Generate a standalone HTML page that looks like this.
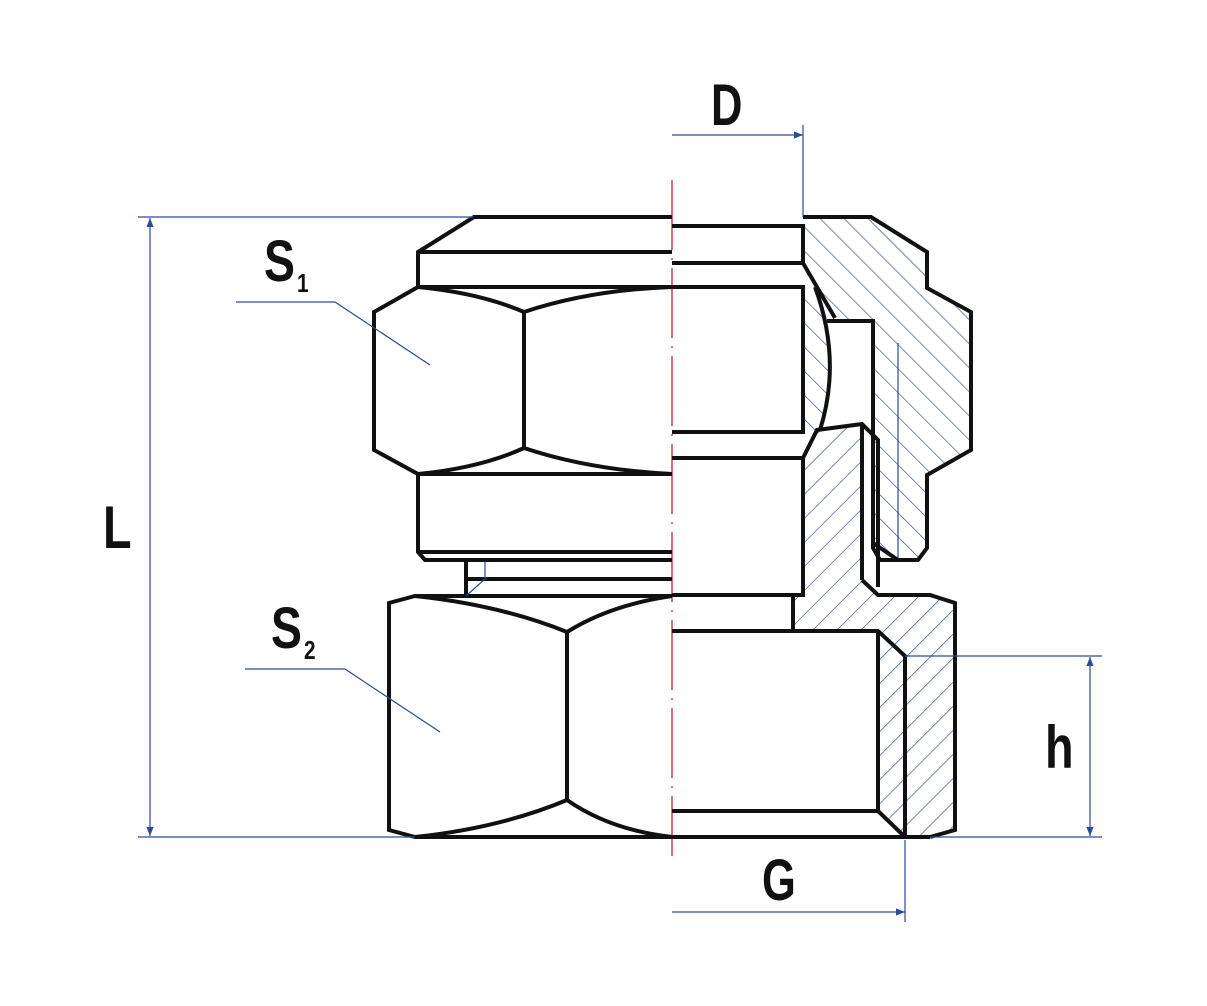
<!DOCTYPE html>
<html><head><meta charset="utf-8"><style>
html,body{margin:0;padding:0;background:#fff;}
svg{display:block;}
text{font-family:"Liberation Sans",sans-serif;font-weight:bold;fill:#111;}
</style></head><body>
<svg width="1207" height="1006" viewBox="0 0 1207 1006" xmlns="http://www.w3.org/2000/svg">
<defs>
<pattern id="hb" patternUnits="userSpaceOnUse" width="17" height="17" patternTransform="rotate(-45)">
<line x1="0" y1="0" x2="0" y2="17" stroke="#2d4a9a" stroke-width="1.3"/></pattern>
<pattern id="hf" patternUnits="userSpaceOnUse" width="17" height="17" patternTransform="rotate(45)">
<line x1="0" y1="0" x2="0" y2="17" stroke="#2d4a9a" stroke-width="1.3"/></pattern>
<marker id="ar" viewBox="0 0 10 10" refX="10" refY="5" markerWidth="24" markerHeight="9" markerUnits="userSpaceOnUse" orient="auto-start-reverse">
<path d="M0,1 L10,5 L0,9 Z" fill="#2d4a9a"/></marker>
</defs>

<polygon points="803,217 871,217 927,252 927,288 971,312 971,450 927,475 927,548 918,560 880,560 873,548 873,321 835,321 803,263" fill="url(#hb)"/>
<path d="M803,288 L818,290 Q840,360 820,430 L803,432 Z" fill="url(#hb)"/>
<polygon points="803,458 817,430 862,424 862,580 878,595 930,595 955,603 955,830 930,837 905,837 878,811 878,631 793,631 793,595 803,595" fill="url(#hf)"/>
<line x1="898" y1="343" x2="898" y2="560" stroke="#2d4a9a" stroke-width="1.2"/>

<line x1="672" y1="180" x2="672" y2="856" stroke="#d0202a" stroke-width="1.3" stroke-dasharray="70,8,2,8"/>

<g fill="none" stroke="#111" stroke-width="4" stroke-linejoin="miter">
<polyline points="672,217 474,217 418,252 418,287 672,287"/>
<line x1="418" y1="252" x2="672" y2="252"/>
<polyline points="418,287 374,312 374,450 418,474"/>
<line x1="524" y1="312" x2="524" y2="448"/>
<path d="M418,287 Q480,293 524,312 Q590,290 672,287"/>
<path d="M418,474 Q480,468 524,448 Q590,470 672,474"/>
<polyline points="672,474 418,474 418,552 425,560 672,560"/>
<line x1="418" y1="552" x2="672" y2="552"/>
<polyline points="466,562 466,596"/>
<line x1="466" y1="579" x2="672" y2="579"/>
<polyline points="672,596 415,596 389,603 389,830 415,837 930,837"/>
<line x1="567" y1="632" x2="567" y2="800"/>
<path d="M415,596 Q500,605 567,632 Q610,605 672,596"/>
<path d="M415,837 Q500,828 567,800 Q610,830 672,837"/>
<polyline points="803,217 871,217 927,252 927,288 971,312 971,450 927,475 927,548 918,560 880,560 873,548 873,321 827,321"/>
<polyline points="672,226 803,226 803,263 672,263"/>
<polyline points="803,263 835,318"/>
<polyline points="672,287 803,287 803,432 672,432"/>
<path d="M815,287 Q842,360 820,430"/>
<polyline points="672,458 803,458 817,430 862,424 878,440 878,587"/>
<line x1="862" y1="424" x2="862" y2="580"/>
<polyline points="862,580 878,595 930,595 955,603 955,830 930,837"/>
<polyline points="803,458 803,595 672,595"/>
<polyline points="793,595 793,631"/>
<polyline points="672,631 878,631 905,656 905,837"/>
<polyline points="878,631 878,811 672,811"/>
<line x1="878" y1="811" x2="905" y2="837"/>
<line x1="873" y1="543" x2="898" y2="560"/>
</g>

<g stroke="#2d4a9a" stroke-width="1.2" fill="none">
<line x1="138" y1="217" x2="474" y2="217"/>
<line x1="138" y1="837" x2="415" y2="837"/>
<line x1="150" y1="218" x2="150" y2="836" marker-start="url(#ar)" marker-end="url(#ar)"/>
<line x1="803" y1="125" x2="803" y2="217"/>
<line x1="672" y1="135" x2="803" y2="135" marker-end="url(#ar)"/>
<line x1="905" y1="840" x2="905" y2="922"/>
<line x1="672" y1="912" x2="905" y2="912" marker-end="url(#ar)"/>
<line x1="905" y1="656" x2="1102" y2="656"/>
<line x1="930" y1="837" x2="1102" y2="837"/>
<line x1="1090" y1="657" x2="1090" y2="836" marker-start="url(#ar)" marker-end="url(#ar)"/>
<polyline points="236,302 335,302 430,365"/>
<polyline points="245,669 345,669 440,732"/>
<polyline points="466,596 485,579 485,562"/>
</g>

<g transform="translate(103,548) scale(0.78,1)"><text font-size="60">L</text></g>
<g transform="translate(711,125) scale(0.75,1)"><text font-size="58">D</text></g>
<g transform="translate(762,900) scale(0.75,1)"><text font-size="58">G</text></g>
<g transform="translate(1045,768) scale(0.78,1)"><text font-size="60">h</text></g>
<g transform="translate(264,281) scale(0.8,1)"><text font-size="58">S</text></g>
<g transform="translate(297,292) scale(0.8,1)"><text font-size="26">1</text></g>
<g transform="translate(271,648) scale(0.8,1)"><text font-size="58">S</text></g>
<g transform="translate(304,659) scale(0.8,1)"><text font-size="26">2</text></g>
</svg>
</body></html>
